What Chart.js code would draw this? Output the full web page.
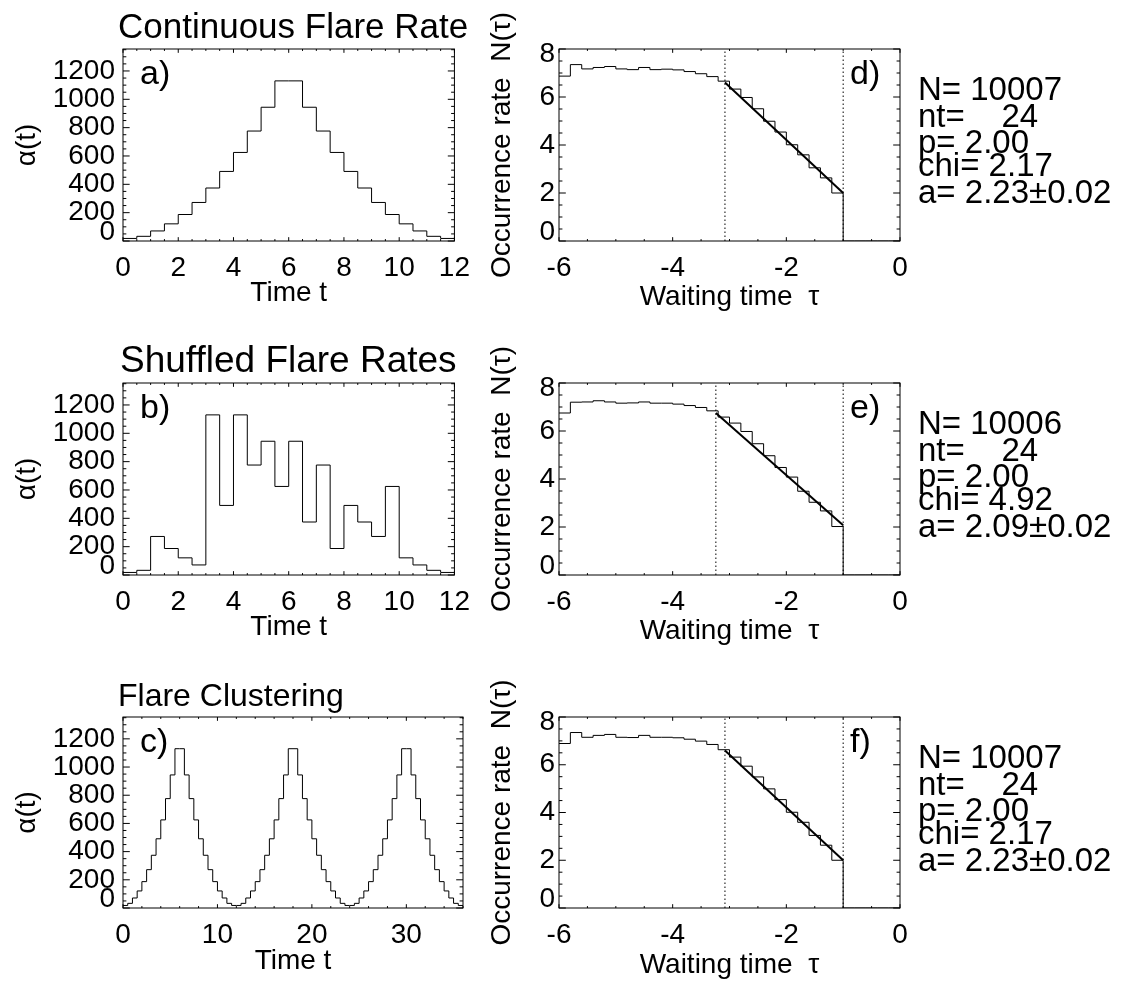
<!DOCTYPE html>
<html lang="en">
<head>
<meta charset="utf-8">
<title>Flare rates and waiting-time distributions</title>
<script src="https://cdn.jsdelivr.net/npm/chart.js@4.4.1/dist/chart.umd.min.js"></script>
<style>
    html, body { margin: 0; padding: 0; background: #fff; overflow: hidden; }
    #figure { position: relative; width: 1121px; height: 983px; }
    #figure canvas { position: absolute; }
</style>
</head>
<body>
<div id="figure">
    <canvas id="panelA" width="480" height="334" style="left:0;top:0"></canvas>
    <canvas id="panelB" width="480" height="334" style="left:0;top:334px"></canvas>
    <canvas id="panelC" width="480" height="315" style="left:0;top:668px"></canvas>
    <canvas id="panelD" width="641" height="334" style="left:480px;top:0"></canvas>
    <canvas id="panelE" width="641" height="334" style="left:480px;top:334px"></canvas>
    <canvas id="panelF" width="641" height="315" style="left:480px;top:668px"></canvas>
</div>
<script>
const FONT_FAMILY = '"Liberation Sans", Arial, Helvetica, sans-serif';

// Flare rate per time bin (bins of 0.5 starting at t=0)
const timeBinStart = 0;
const timeBinWidth = 0.5;
const rateContinuous = [18, 33, 71, 121, 187, 272, 374, 491, 625, 776, 944, 1130,
                        1130, 944, 776, 625, 491, 374, 272, 187, 121, 71, 33, 18];
const rateShuffled = [18, 33, 272, 187, 121, 71, 1130, 491, 1130, 776, 944, 625,
                      944, 374, 776, 187, 491, 374, 272, 625, 121, 71, 33, 18];
const rateClustered = [18, 33, 71, 121, 187, 272, 374, 491, 625, 776, 944, 1130,
                       1130, 944, 776, 625, 491, 374, 272, 187, 121, 71, 33, 18,
                       18, 33, 71, 121, 187, 272, 374, 491, 625, 776, 944, 1130,
                       1130, 944, 776, 625, 491, 374, 272, 187, 121, 71, 33, 18,
                       18, 33, 71, 121, 187, 272, 374, 491, 625, 776, 944, 1130,
                       1130, 944, 776, 625, 491, 374, 272, 187, 121, 71, 33, 18];
const timeTicksShort = [0, 2, 4, 6, 8, 10, 12];
const timeTicksLong = [0, 10, 20, 30];
const rateTicks = [0, 200, 400, 600, 800, 1000, 1200];

// Waiting time distributions, log10 bins of 0.2 starting at -6
const logWaitStart = -6;
const logWaitBinWidth = 0.2;
const waitHistD = [6.87, 7.35, 7.17, 7.23, 7.27, 7.17, 7.14, 7.23, 7.14, 7.16, 7.13, 7.06, 6.97, 6.85, 6.66,
                   6.33, 5.98, 5.51, 4.99, 4.54, 4.01, 3.59, 3.05, 2.63, 2.00, 0, 0, 0, 0, 0];
const waitHistE = [6.75, 7.20, 7.21, 7.26, 7.21, 7.16, 7.17, 7.21, 7.16, 7.16, 7.12, 7.06, 6.98, 6.84, 6.58,
                   6.33, 5.98, 5.47, 4.97, 4.48, 4.08, 3.49, 3.03, 2.67, 2.02, 0, 0, 0, 0, 0];
const waitHistF = [6.89, 7.35, 7.15, 7.23, 7.27, 7.15, 7.14, 7.23, 7.15, 7.15, 7.13, 7.07, 6.99, 6.85, 6.63,
                   6.32, 5.94, 5.49, 4.99, 4.54, 4.01, 3.59, 3.04, 2.63, 2.00, 0, 0, 0, 0, 0];
const waitTicksX = [-6, -4, -2, 0];
const waitTicksY = [0, 2, 4, 6, 8];

// power-law fit range (log tau) and fitted line end values
const fitRangeD = [-3.08, -1.0];
const fitValuesD = [6.6, 2.0];
const fitRangeE = [-3.24, -1.0];
const fitValuesE = [6.75, 2.07];
const fitRangeF = [-3.08, -1.0];
const fitValuesF = [6.6, 2.0];

const statsD = ['N= 10007', 'nt=    24', 'p= 2.00', 'chi= 2.17', 'a= 2.23\u00b10.02'];
const statsE = ['N= 10006', 'nt=    24', 'p= 2.00', 'chi= 4.92', 'a= 2.09\u00b10.02'];
const statsF = ['N= 10007', 'nt=    24', 'p= 2.00', 'chi= 2.17', 'a= 2.23\u00b10.02'];

const layoutLeft = { yAxisWidth: 123, rightPad: 17, tickPad: 10, yTitlePad: 10, yLabelGap: 8, xTitleCenter: 293, letterX: 140 };
const layoutRight = { yAxisWidth: 79, rightPad: 221, tickPad: 10, yTitlePad: 5, yLabelGap: 4, xTitleCenter: 297, letterX: 370 };

function stepPoints(start, width, values) {
    const pts = values.map((v, i) => ({ x: start + i * width, y: v }));
    pts.push({ x: start + values.length * width, y: values[values.length - 1] });
    return pts;
}

function histDataset(points) {
    return { data: points, stepped: true, borderColor: '#000', borderWidth: 1, pointRadius: 0, fill: false };
}

function fitDatasets(range, values, yMin, yMax) {
    const dotted = (x) => ({
        data: [{ x, y: yMin }, { x, y: yMax }],
        borderColor: '#000', borderWidth: 1, borderDash: [1.5, 2.5], pointRadius: 0, fill: false,
    });
    return [
        { data: [{ x: range[0], y: values[0] }, { x: range[1], y: values[1] }],
          borderColor: '#000', borderWidth: 2, pointRadius: 0, fill: false },
        dotted(range[0]),
        dotted(range[1]),
    ];
}

function forEachTick(min, max, step, fn) {
    const n = Math.round((max - min) / step + 1e-6);
    for (let i = 0; i <= n; i++) {
        const v = min + i * step;
        if (v <= max + 1e-6) fn(v);
    }
}

// box with inward ticks on all four sides, like the IDL default
function idlDecorations(spec) {
    const L = spec.layout;
    return {
        id: 'idlDecorations',
        afterDatasetsDraw(chart) {
            const { ctx, chartArea: area } = chart;
            const xs = chart.scales.x;
            const ys = chart.scales.y;
            const isMajor = (list, v) => list.some((t) => Math.abs(t - v) < 1e-6);
            ctx.save();
            ctx.strokeStyle = '#000';
            ctx.lineWidth = 1;
            ctx.strokeRect(area.left, area.top, area.right - area.left, area.bottom - area.top);

            const xLen = (area.bottom - area.top) * 0.02;
            const yLen = (area.right - area.left) * 0.02;
            ctx.beginPath();
            forEachTick(spec.xMin, spec.xMax, spec.xMinor, (v) => {
                const px = xs.getPixelForValue(v);
                const len = isMajor(spec.xTicks, v) ? xLen : xLen / 2;
                ctx.moveTo(px, area.bottom); ctx.lineTo(px, area.bottom - len);
                ctx.moveTo(px, area.top); ctx.lineTo(px, area.top + len);
            });
            forEachTick(spec.yMin, spec.yMax, spec.yMinor, (v) => {
                const py = ys.getPixelForValue(v);
                const len = isMajor(spec.yTicks, v) ? yLen : yLen / 2;
                ctx.moveTo(area.left, py); ctx.lineTo(area.left + len, py);
                ctx.moveTo(area.right, py); ctx.lineTo(area.right - len, py);
            });
            ctx.stroke();
            ctx.restore();
        },
        afterDraw(chart) {
            const { ctx, chartArea: area } = chart;
            const ys = chart.scales.y;
            ctx.save();
            ctx.fillStyle = '#000';

            // y tick labels, end labels kept inside the box like IDL does
            ctx.font = `28px ${FONT_FAMILY}`;
            ctx.textAlign = 'right';
            ctx.textBaseline = 'middle';
            spec.yTicks.forEach((v) => {
                let py = ys.getPixelForValue(v);
                if (v === spec.yMin) py -= 9;
                else if (v === spec.yMax) py += 5;
                ctx.fillText(String(v), area.left - L.yLabelGap, py);
            });

            ctx.textBaseline = 'alphabetic';
            ctx.textAlign = 'left';
            if (spec.title) {
                ctx.font = `${spec.titleSize}px ${FONT_FAMILY}`;
                ctx.fillText(spec.title, spec.titleX, 38);
            }

            ctx.font = `34px ${FONT_FAMILY}`;
            ctx.fillText(spec.letter, L.letterX, area.top + 35);

            if (spec.stats) {
                ctx.font = `33px ${FONT_FAMILY}`;
                const baselines = [100, 127, 153, 176, 203];
                spec.stats.forEach((line, i) => ctx.fillText(line, 438, baselines[i]));
            }
            ctx.restore();
        },
    };
}

function makePanel(id, spec) {
    const canvas = document.getElementById(id);
    const H = canvas.height;
    const L = spec.layout;
    const plotBottom = spec.plotBottom;
    const axisFont = { family: FONT_FAMILY, size: 28 };

    return new Chart(canvas, {
        type: 'line',
        data: { datasets: spec.datasets },
        options: {
            responsive: false,
            animation: false,
            events: [],
            layout: { padding: { left: 0, right: L.rightPad, top: 49, bottom: 0 } },
            plugins: { legend: { display: false }, tooltip: { enabled: false }, title: { display: false } },
            scales: {
                x: {
                    type: 'linear',
                    min: spec.xMin,
                    max: spec.xMax,
                    afterBuildTicks: (s) => { s.ticks = spec.xTicks.map((v) => ({ value: v })); },
                    afterFit: (s) => { s.height = H - plotBottom; },
                    grid: { display: false, drawTicks: false },
                    border: { display: false },
                    ticks: {
                        padding: L.tickPad, color: '#000', font: axisFont,
                        maxRotation: 0, autoSkip: false, callback: (v) => String(v),
                    },
                    title: {
                        display: true, text: spec.xTitle, color: '#000', font: axisFont,
                        padding: { top: 0, bottom: H - L.xTitleCenter - 16.8 },
                    },
                },
                y: {
                    type: 'linear',
                    min: spec.yMin,
                    max: spec.yMax,
                    afterFit: (s) => { s.width = L.yAxisWidth; },
                    grid: { display: false, drawTicks: false },
                    border: { display: false },
                    ticks: { display: false },
                    title: {
                        display: true, text: spec.yTitle, color: '#000', font: axisFont,
                        padding: { top: L.yTitlePad, bottom: 0 },
                    },
                },
            },
        },
        plugins: [idlDecorations(spec)],
    });
}

const rateAxis = { xMin: 0, xMax: 12, xTicks: timeTicksShort, xMinor: 0.5,
                   yMin: 0, yMax: 1355, yTicks: rateTicks, yMinor: 50,
                   xTitle: 'Time t', yTitle: '\u03b1(t)', layout: layoutLeft };
const waitAxis = { xMin: -6, xMax: 0, xTicks: waitTicksX, xMinor: 0.5,
                   yMin: 0, yMax: 8, yTicks: waitTicksY, yMinor: 0.5,
                   xTitle: 'Waiting time  \u03c4', yTitle: 'Occurrence rate  N(\u03c4)', layout: layoutRight };

makePanel('panelA', { ...rateAxis, plotBottom: 241, title: 'Continuous Flare Rate', titleX: 118, titleSize: 35, letter: 'a)',
    datasets: [histDataset(stepPoints(timeBinStart, timeBinWidth, rateContinuous))] });
makePanel('panelB', { ...rateAxis, plotBottom: 241, title: 'Shuffled Flare Rates', titleX: 120, titleSize: 37, letter: 'b)',
    datasets: [histDataset(stepPoints(timeBinStart, timeBinWidth, rateShuffled))] });
makePanel('panelC', { ...rateAxis, xMax: 36, xTicks: timeTicksLong, xMinor: 2, plotBottom: 240,
    title: 'Flare Clustering', titleX: 118, titleSize: 32, letter: 'c)',
    datasets: [histDataset(stepPoints(timeBinStart, timeBinWidth, rateClustered))] });

makePanel('panelD', { ...waitAxis, plotBottom: 241, letter: 'd)', stats: statsD,
    datasets: [histDataset(stepPoints(logWaitStart, logWaitBinWidth, waitHistD)), ...fitDatasets(fitRangeD, fitValuesD, 0, 8)] });
makePanel('panelE', { ...waitAxis, plotBottom: 241, letter: 'e)', stats: statsE,
    datasets: [histDataset(stepPoints(logWaitStart, logWaitBinWidth, waitHistE)), ...fitDatasets(fitRangeE, fitValuesE, 0, 8)] });
makePanel('panelF', { ...waitAxis, plotBottom: 240, letter: 'f)', stats: statsF,
    datasets: [histDataset(stepPoints(logWaitStart, logWaitBinWidth, waitHistF)), ...fitDatasets(fitRangeF, fitValuesF, 0, 8)] });
</script>
</body>
</html>
